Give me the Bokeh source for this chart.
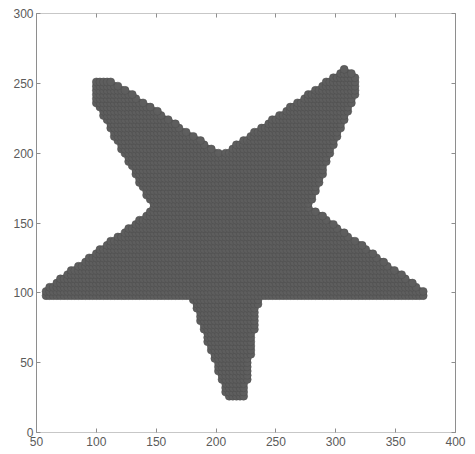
import numpy as np
from bokeh.plotting import figure
from bokeh.models import LinearAxis, Range1d, FixedTicker
from bokeh.embed import file_html
from bokeh.resources import INLINE

# Star outline (positions of the outermost dot centres), clockwise from the upper-left tip
star_x = [99, 111, 205, 308, 318, 318, 278, 374, 374, 236, 224, 209, 180, 57, 57, 148, 99]
star_y = [253, 253, 199, 261, 256, 245, 162, 101, 97, 96, 26, 26, 96, 97, 102, 160, 237]

# Sampling grid of the filled region
grid_x0, grid_y0 = 52, 23
grid_step_x, grid_step_y = 3, 3

x_ticks = [50, 100, 150, 200, 250, 300, 350, 400]
y_ticks = [0, 50, 100, 150, 200, 250, 300]


def inside_polygon(px, py, vx, vy):
    res = np.zeros(px.shape, dtype=bool)
    n = len(vx)
    j = n - 1
    for i in range(n):
        xi, yi, xj, yj = vx[i], vy[i], vx[j], vy[j]
        if yi != yj:
            crosses = (yi > py) != (yj > py)
            xcross = (xj - xi) * (py - yi) / (yj - yi) + xi
            res ^= crosses & (px < xcross)
        j = i
    return res


gx, gy = np.meshgrid(np.arange(grid_x0, 400, grid_step_x),
                     np.arange(grid_y0, 300, grid_step_y))
gx = gx.ravel().astype(float)
gy = gy.ravel().astype(float)
mask = inside_polygon(gx, gy, star_x, star_y)
pts_x, pts_y = gx[mask], gy[mask]

p = figure(width=475, height=454, output_backend="svg", toolbar_location=None,
           x_range=Range1d(50, 400), y_range=Range1d(0, 300),
           x_axis_location=None, y_axis_location=None,
           min_border_left=36, min_border_right=20,
           min_border_top=13, min_border_bottom=22)
p.outline_line_color = None
p.grid.visible = False
p.background_fill_color = "white"
p.border_fill_color = "white"

p.scatter(pts_x, pts_y, size=8, marker="circle",
          fill_color="#5e5e5e", line_color="#4d4d4d", line_width=0.5)

axis_col = "#8e8e8e"
label_col = "#5a5a5a"


def style(ax, ticks, show_labels, dash=None, standoff=3):
    ax.ticker = FixedTicker(ticks=ticks)
    ax.minor_tick_line_color = None
    ax.major_tick_in = 4
    ax.major_tick_out = 0
    ax.major_tick_line_color = axis_col
    ax.axis_line_color = axis_col
    ax.axis_line_width = 1
    if dash:
        ax.axis_line_dash = dash
    ax.major_label_standoff = standoff
    ax.major_label_text_font = "Liberation Sans"
    ax.major_label_text_font_size = "12px"
    ax.major_label_text_color = label_col if show_labels else None


left = LinearAxis()
style(left, y_ticks, True)
p.add_layout(left, "left")
right = LinearAxis()
style(right, y_ticks, False)
p.add_layout(right, "right")
bottom = LinearAxis()
style(bottom, x_ticks, True, "1 1", standoff=4)
p.add_layout(bottom, "below")
top = LinearAxis()
style(top, x_ticks, False, "1 1")
p.add_layout(top, "above")

open("out.html", "w").write(file_html(p, INLINE))
